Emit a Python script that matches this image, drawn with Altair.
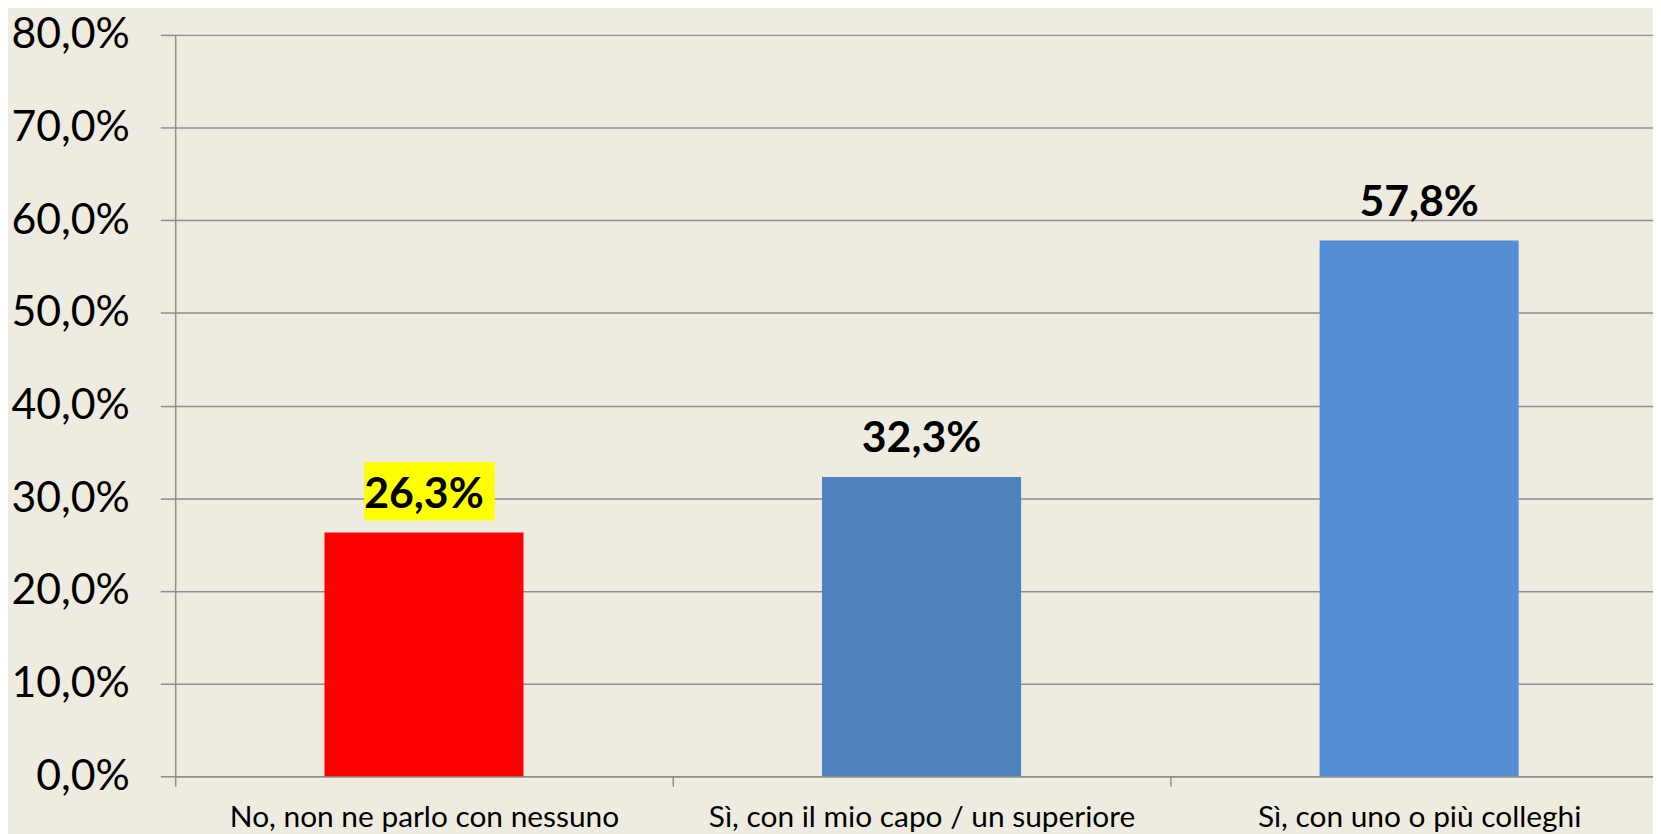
import altair as alt
import pandas as pd

categories = [
    "No, non ne parlo con nessuno",
    "Sì, con il mio capo / un superiore",
    "Sì, con uno o più colleghi",
]
values = [0.263, 0.323, 0.578]
bar_colors = ["#FF0000", "#4F81BD", "#558ED5"]
highlight = [True, False, False]
y_ticks = [0.0, 0.1, 0.2, 0.3, 0.4, 0.5, 0.6, 0.7, 0.8]

df = pd.DataFrame({"cat": categories, "val": values, "color": bar_colors, "hl": highlight})

GRAY = "#8E8E8E"
FMT = "replace(format(datum.value, '.1%'), '.', ',')"

x = alt.X(
    "cat:N",
    sort=categories,
    title=None,
    scale=alt.Scale(paddingInner=0.6, paddingOuter=0.3),
    axis=alt.Axis(
        labelFont="Lato", labelFontSize=30, labelColor="black", labelAngle=0,
        labelLimit=0, labelOverlap=False, labelBaseline="alphabetic", labelPadding=40,
        tickSize=10, tickColor=GRAY, tickWidth=1.5,
        domainColor=GRAY, domainWidth=1.5,
        bandPosition=0, tickOffset=-150, labelOffset=150,
    ),
)
y = alt.Y(
    "val:Q",
    title=None,
    scale=alt.Scale(domain=[0, 0.8], nice=False),
    axis=alt.Axis(
        values=y_ticks, labelExpr=FMT,
        labelFont="Lato", labelFontSize=43, labelColor="black", labelPadding=31,
        tickSize=15, tickColor=GRAY, tickWidth=1.5,
        domainColor=GRAY, domainWidth=1.5,
        grid=True, gridColor=GRAY, gridWidth=1.5,
    ),
)

base = alt.Chart(df)

bars = base.mark_bar().encode(x=x, y=y, color=alt.Color("color:N", scale=None))

box = base.transform_filter("datum.hl").mark_point(
    shape="M-1.2,-1.42H1.42V-0.24H-1.2Z",
    size=10000, filled=True, color="#FFFF00", opacity=1, strokeWidth=0,
).encode(x=x, y=y)

labels = base.transform_calculate(
    label="replace(format(datum.val, '.1%'), '.', ',')"
).mark_text(
    font="Lato", fontSize=43, fontWeight="bold", baseline="alphabetic", dy=-25, color="black"
).encode(x=x, y=y, text="label:N")

chart = alt.layer(bars, box, labels).properties(
    width=1500, height=745,
    background="#EEECE1",
    autosize=alt.AutoSizeParams(type="none"),
    padding={"left": 168, "top": 25, "right": -15, "bottom": 56},
).configure_view(stroke=None)

chart.save("out.html", embed_options={"renderer": "svg", "actions": False})
